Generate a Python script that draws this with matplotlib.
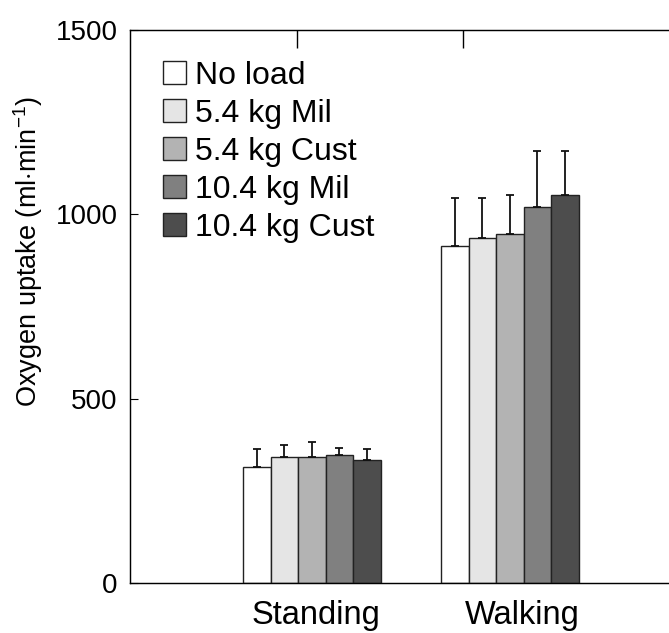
import numpy as np
import matplotlib
matplotlib.use("Agg")
import matplotlib.pyplot as plt

plt.rcParams['font.family'] = ['Liberation Sans', 'DejaVu Sans']
plt.rcParams['mathtext.fontset'] = 'custom'
plt.rcParams['mathtext.rm'] = 'Liberation Sans'
plt.rcParams['mathtext.it'] = 'Liberation Sans'

# data
conditions = ['Standing', 'Walking']
loads = ['No load', '5.4 kg Mil', '5.4 kg Cust', '10.4 kg Mil', '10.4 kg Cust']
standing = [315, 343, 343, 347, 334]
standing_sd = [48, 31, 39, 20, 29]
walking = [914, 937, 946, 1020, 1052]
walking_sd = [129, 106, 106, 152, 120]
colors = ['#ffffff', '#e5e5e5', '#b3b3b3', '#808080', '#4d4d4d']

means = np.array([standing, walking])
sds = np.array([standing_sd, walking_sd])

fig = plt.figure(figsize=(6.69, 6.33), dpi=100)
ax = fig.add_axes([130/669, 50/633, 550/669, 553/633])

x = np.arange(1, len(conditions) + 1)
w = 0.139
for i in range(len(loads)):
    xs = x + (i - 2) * w
    ax.bar(xs, means[:, i], width=w, color=colors[i], edgecolor='#222222',
           linewidth=1.0, label=loads[i], zorder=2)
    ax.errorbar(xs, means[:, i], yerr=[np.zeros(2), sds[:, i]], fmt='none',
                ecolor='#111111', elinewidth=1.3, capsize=3, capthick=1.3, zorder=3)

ax.set_xlim(0.081, 2.859)
ax.set_ylim(0, 1500)
ax.set_yticks([0, 500, 1000, 1500])
ax.tick_params(axis='y', direction='in', length=6, labelsize=20, right=True, pad=9)
ax.set_xticks(x + np.array([0.02, 0.06]))
ax.set_xticklabels(conditions, fontsize=23.5)
ax.tick_params(axis='x', length=0, pad=12)
for s in ax.spines.values():
    s.set_linewidth(1.0)
    s.set_color('#222222')

top = ax.twiny()
top.set_xlim(ax.get_xlim())
top.set_xticks([0.924, 1.763])
top.set_xticklabels([])
top.tick_params(axis='x', direction='in', length=13, width=1.0)

ax.set_ylabel(r'Oxygen uptake (ml$\cdot$min$^{\mathregular{-1}}$)', fontsize=19.5)
ax.yaxis.set_label_coords(-0.155, 0.6)

ax.legend(loc='upper left', bbox_to_anchor=(0.02, 0.985), frameon=False, fontsize=23,
          handlelength=0.7, handleheight=0.7, handletextpad=0.3,
          labelspacing=0.25, borderaxespad=0.3)

fig.savefig('out.png', dpi=100)
